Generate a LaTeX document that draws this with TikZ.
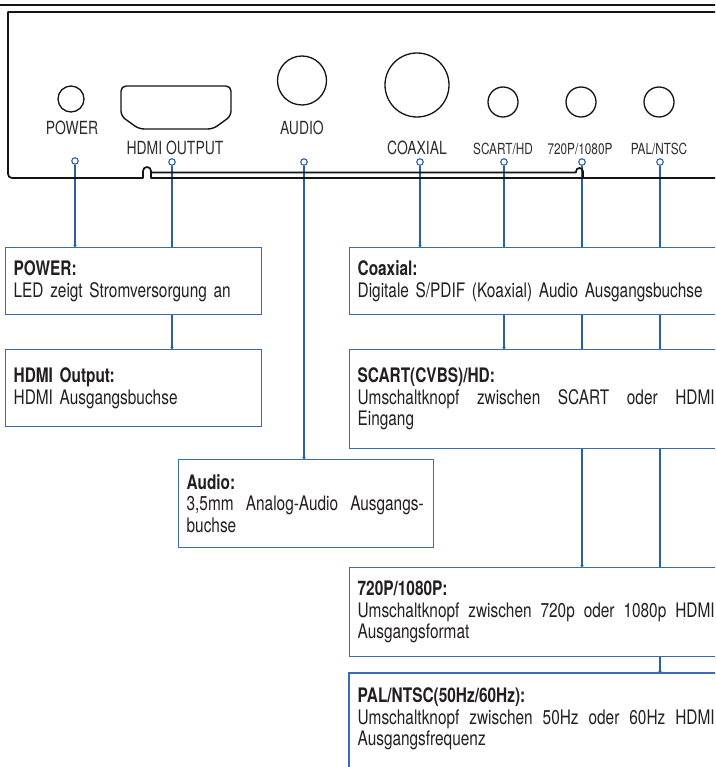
\documentclass[tikz,border=0pt]{standalone}
\usepackage{fontspec}
\setmainfont{TeX Gyre Heros}[FakeStretch=0.77]
\usetikzlibrary{arrows.meta}
\pgfdeclarelayer{bg}
\pgfsetlayers{bg,main}
\definecolor{cblue}{RGB}{43,94,170}
\definecolor{bblue}{RGB}{58,108,181}
\definecolor{tgray}{RGB}{35,31,32}
\definecolor{lgray}{RGB}{45,45,45}
\newcommand{\spreadline}[2]{\leavevmode\hbox to #1{#2}}
\begin{document}
\begin{tikzpicture}[x=1pt,y=-1pt,
  dev/.style={line width=1.7pt, draw=black!92, line join=round},
  part/.style={circle, draw=black!92, line width=1.3pt, inner sep=0pt},
  lbl/.style={font=\fontsize{18.1}{19}\selectfont, text=lgray, inner sep=0pt, anchor=base},
  slbl/.style={font=\fontsize{15.3}{17}\selectfont, text=lgray, inner sep=0pt, anchor=base},
  pin/.style={circle, draw=cblue, fill=white, line width=1.1pt, minimum size=6.5pt, inner sep=0pt},
  conn/.style={draw=cblue, line width=1.3pt, -{Stealth[length=1.8pt,width=4pt]}},
  infobox/.style={draw=bblue, line width=1.3pt, fill=white, anchor=north west,
    inner xsep=8pt, inner ysep=0pt, align=left, text=tgray,
    font=\fontsize{20}{21.5}\selectfont},
  ]
\clip (0,0) rectangle (715,767);

% ---- device outline ----
\draw[line width=1.9pt, draw=black!92] (-5,5) -- (720,5);
\draw[dev] (720,12) -- (8,12) -- (8,174)
  arc[start angle=180, end angle=90, radius=4] -- (143,178) -- (143,171)
  arc[start angle=180, end angle=360, radius=4] -- (151,178) -- (720,178);
\draw[dev] (151,172.5) -- (576,172.5) -- (576,171.5)
  arc[start angle=180, end angle=360, radius=3.5] -- (583,178);

% ---- jacks and buttons ----
\node[part, minimum size=26pt] (led) at (71,99) {};
\draw[line width=1.4pt, draw=black!92, rounded corners=5pt]
  (121,116) -- (121,86) -- (231,86) -- (231,116) -- (213,129) -- (139,129) -- cycle;
\node[part, minimum size=49pt] (audio) at (302,80.5) {};
\node[part, minimum size=64pt] (coax) at (417,85) {};
\node[part, minimum size=30pt] (scart) at (503,102) {};
\node[part, minimum size=30pt] (res) at (581,102) {};
\node[part, minimum size=30pt] (pal) at (659,102) {};

% ---- labels ----
\node[lbl] (lpow) at (72,135) {POWER};
\node[lbl] (lhdmi) at (175,155) {HDMI OUTPUT};
\node[lbl] (laud) at (302,135) {AUDIO};
\node[lbl] (lcoax) at (417,155) {COAXIAL};
\node[slbl] (lscart) at (503,155) {SCART/HD};
\node[slbl] (lres) at (580,155) {720P/1080P};
\node[slbl] (lpal) at (659,155) {PAL/NTSC};

% ---- pins ----
\node[pin] (ppow) at (75,161) {};
\node[pin] (phdmi) at (172,162) {};
\node[pin] (paud) at (304,162) {};
\node[pin] (pcoax) at (420,162) {};
\node[pin] (pscart) at (504,162) {};
\node[pin] (pres) at (582,162) {};
\node[pin] (ppal) at (660,162) {};

% ---- info boxes ----
\node[infobox, text width=240pt, minimum height=67pt] (bpow) at (5,247)
  {\textbf{POWER:}\\LED zeigt Stromversorgung an};
\node[infobox, text width=240pt, minimum height=77pt] (bhdmi) at (5,349)
  {\textbf{HDMI Output:}\\HDMI Ausgangsbuchse};
\node[infobox, text width=239pt, minimum height=88pt] (baud) at (178,459)
  {\textbf{Audio:}\\\spreadline{237pt}{3,5mm\hfill Analog-Audio\hfill Ausgangs-}\\buchse};
\node[infobox, text width=358pt, minimum height=67pt] (bcoax) at (349,247)
  {\textbf{Coaxial:}\\Digitale S/PDIF (Koaxial) Audio Ausgangsbuchse};
\node[infobox, text width=358pt, minimum height=99pt] (bscart) at (349,349)
  {\textbf{SCART(CVBS)/HD:}\\\spreadline{357pt}{Umschaltknopf\hfill zwischen\hfill SCART\hfill oder\hfill HDMI}\\Eingang};
\node[infobox, text width=358pt, minimum height=89pt] (bres) at (349,567)
  {\textbf{720P/1080P:}\\\spreadline{357pt}{Umschaltknopf\hfill zwischen\hfill 720p\hfill oder\hfill 1080p\hfill HDMI}\\Ausgangsformat};
\node[infobox, draw=none, text width=358pt, minimum height=91pt] (bpal) at (349,673)
  {\textbf{PAL/NTSC(50Hz/60Hz):}\\\spreadline{357pt}{Umschaltknopf\hfill zwischen\hfill 50Hz\hfill oder\hfill 60Hz\hfill HDMI}\\Ausgangsfrequenz};
\draw[draw=bblue, line width=1.3pt] (bpal.south west) ++(0,40) -- (bpal.north west) -- (bpal.north east);

% ---- connectors ----
\begin{pgfonlayer}{bg}
\draw[conn] (ppow) -- (ppow |- bpow.north);
\draw[conn] (phdmi) -- (phdmi |- bhdmi.north);
\draw[conn] (paud) -- (paud |- baud.north);
\draw[conn] (pcoax) -- (pcoax |- bcoax.north);
\draw[conn] (pscart) -- (pscart |- bscart.north);
\draw[conn] (pres) -- (pres |- bres.north);
\draw[conn] (ppal) -- (ppal |- bpal.north);
\end{pgfonlayer}
\end{tikzpicture}
\end{document}
